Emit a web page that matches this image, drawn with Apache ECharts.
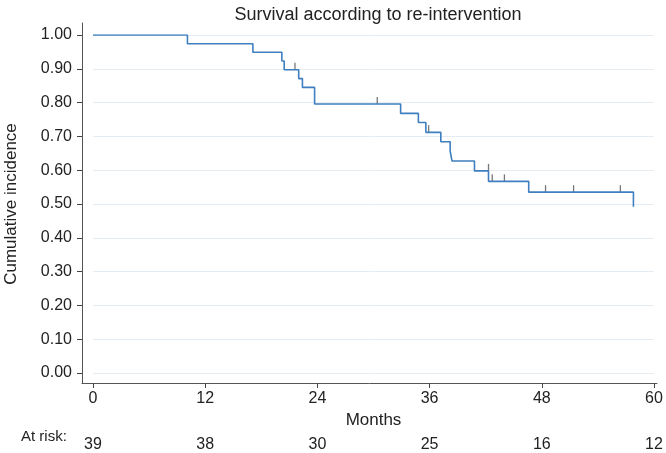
<!DOCTYPE html>
<html>
<head>
<meta charset="utf-8">
<script src="https://cdn.jsdelivr.net/npm/echarts@6/dist/echarts.min.js"></script>
<style>html,body{margin:0;padding:0;background:#fff}#c{width:666px;height:453px}</style>
</head>
<body>
<div id="c"></div>
<script>
// Kaplan-Meier step points: time (months) and survival after the event
const eventTimes = [0, 10.1, 17.1, 20.2, 20.45, 22.0, 22.4, 23.7, 32.9, 34.8, 35.6, 37.2, 38.2, 38.4, 40.8, 42.3, 46.6, 57.8];
const survival   = [1.0, 0.974, 0.949, 0.923, 0.897, 0.871, 0.845, 0.796, 0.768, 0.741, 0.712, 0.684, 0.656, 0.627, 0.598, 0.567, 0.535, 0.492];
// censored observations
const censorTimes  = [21.6, 30.4, 35.9, 42.3, 42.7, 44.0, 48.4, 51.4, 56.4];
const censorValues = [0.897, 0.796, 0.712, 0.598, 0.567, 0.567, 0.535, 0.535, 0.535];
// axes
const xTicks = [0, 12, 24, 36, 48, 60];
const atRisk = [39, 38, 30, 25, 16, 12];
const yTicks = [0, 0.1, 0.2, 0.3, 0.4, 0.5, 0.6, 0.7, 0.8, 0.9, 1.0];

const FONT = '"Liberation Sans", Arial, Helvetica, sans-serif';
const TXT = '#222';
const chart = echarts.init(document.getElementById('c'), null, {renderer: 'canvas'});
const linePts = eventTimes.map((t, i) => [t, survival[i]]);
const censPts = censorTimes.map((t, i) => [t, censorValues[i]]);

chart.setOption({
  animation: false,
  title: [
    {text: 'Survival according to re-intervention', left: 373, top: 1, textAlign: 'center',
     textStyle: {fontFamily: FONT, fontSize: 18, fontWeight: 'normal', color: TXT}},
    {text: 'At risk:', left: 16, top: 424,
     textStyle: {fontFamily: FONT, fontSize: 15, fontWeight: 'normal', color: TXT}}
  ],
  grid: [
    {left: 93, right: 12, top: 35, bottom: 80, containLabel: false, outerBoundsMode: 'none'},
    {left: 82, right: 9, top: 23, bottom: 70, containLabel: false, outerBoundsMode: 'none'}
  ],
  xAxis: [
    {type: 'value', gridIndex: 0, min: 0, max: 60, interval: 12, offset: 10,
     axisLine: {show: true, onZero: false, lineStyle: {color: 'rgba(0,0,0,0)'}},
     axisTick: {show: true, length: 5, lineStyle: {color: '#444'}},
     axisLabel: {margin: 8, fontFamily: FONT, fontSize: 16, color: TXT,
                 formatter: v => xTicks.includes(v) ? String(v) : ''},
     splitLine: {show: false},
     name: 'Months', nameLocation: 'middle', nameGap: 19,
     nameTextStyle: {fontFamily: FONT, fontSize: 17, color: TXT}},
    {type: 'value', gridIndex: 0, min: 0, max: 60, interval: 12, position: 'bottom', offset: 10,
     axisLine: {show: false, onZero: false}, axisTick: {show: false},
     axisLabel: {margin: 54, fontFamily: FONT, fontSize: 16, color: TXT,
                 formatter: v => { const i = xTicks.indexOf(v); return i >= 0 ? String(atRisk[i]) : ''; }},
     splitLine: {show: false}},
    {type: 'value', gridIndex: 1, min: 0, max: 1, show: true,
     axisLine: {show: true, onZero: false, lineStyle: {color: '#555', width: 1}},
     axisTick: {show: false}, axisLabel: {show: false}, splitLine: {show: false}}
  ],
  yAxis: [
    {type: 'value', gridIndex: 0, min: 0, max: 1, interval: 0.1, offset: 11,
     axisLine: {show: true, onZero: false, lineStyle: {color: 'rgba(0,0,0,0)'}},
     axisTick: {show: true, length: 5, lineStyle: {color: '#444'}},
     axisLabel: {margin: 10, fontFamily: FONT, fontSize: 16, color: TXT,
                 formatter: v => v.toFixed(2)},
     splitLine: {show: true, lineStyle: {color: '#e6edf2', width: 1}},
     name: 'Cumulative incidence', nameLocation: 'middle', nameGap: 62, nameRotate: 90,
     nameTextStyle: {fontFamily: FONT, fontSize: 17, color: TXT}},
    {type: 'value', gridIndex: 1, min: 0, max: 1, show: true,
     axisLine: {show: true, onZero: false, lineStyle: {color: '#555', width: 1}},
     axisTick: {show: false}, axisLabel: {show: false}, splitLine: {show: false}}
  ],
  series: [
    {type: 'line', xAxisIndex: 0, yAxisIndex: 0, step: 'end', data: linePts,
     showSymbol: false, lineStyle: {color: '#3f7fbf', width: 1.6}},
    {type: 'scatter', xAxisIndex: 0, yAxisIndex: 0, data: censPts,
     symbol: 'rect', symbolSize: [1.3, 7], symbolOffset: [0, -3.5],
     itemStyle: {color: '#555'}}
  ]
});
</script>
</body>
</html>
